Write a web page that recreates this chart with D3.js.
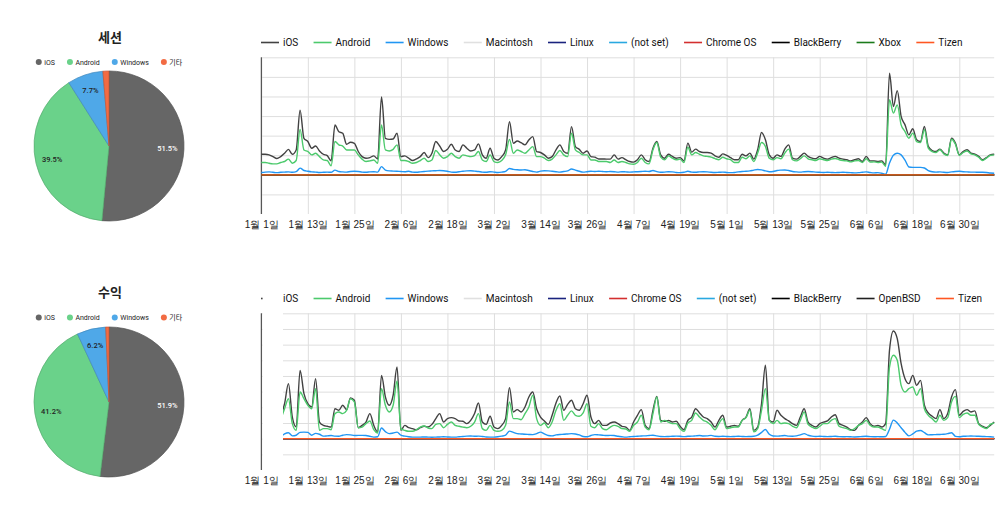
<!DOCTYPE html>
<html>
<head>
<meta charset="utf-8">
<script src="https://cdnjs.cloudflare.com/ajax/libs/d3/7.8.5/d3.min.js"></script>
<style>
  body { margin: 0; background: #fff; }
  svg { font-family: Roboto, "Noto Sans CJK KR", sans-serif; }
</style>
</head>
<body>
<svg id="chart" width="1005" height="518"></svg>
<script>
// pie data
var pieNames = ["iOS", "Android", "Windows", "기타"];
var pieColors = ["#666666", "#6ad28a", "#4fa8e8", "#f26b43"];
var sessionShare = [51.5, 39.5, 7.7, 1.3];
var revenueShare = [51.9, 41.2, 6.2, 0.7];

// x axis ticks
var tickDates = ["2019-01-01", "2019-01-13", "2019-01-25", "2019-02-06", "2019-02-18", "2019-03-02",
  "2019-03-14", "2019-03-26", "2019-04-07", "2019-04-19", "2019-05-01", "2019-05-13",
  "2019-05-25", "2019-06-06", "2019-06-18", "2019-06-30"];
var firstDay = "2019-01-01";
var lastDay = "2019-07-09";

// sessions, daily from 1월 1일
var sessIos = [105,105,102,93,83,93,110,130,105,127,
  330,186,170,136,147,122,105,98,71,254,
  220,212,156,166,161,119,93,85,88,97,
  81,398,186,181,183,212,93,97,85,73,
  81,93,114,88,110,170,147,119,130,156,
  127,119,153,136,122,127,158,102,85,136,
  85,76,93,127,271,161,173,164,153,178,
  195,119,114,102,85,93,127,153,119,110,
  246,144,130,110,122,93,90,81,81,80,
  80,102,80,88,77,68,65,77,102,77,
  68,136,170,102,85,105,94,85,88,71,
  162,116,131,119,114,114,111,97,90,107,
  99,88,77,77,105,97,111,80,128,216,
  179,102,85,102,94,131,153,85,80,94,
  111,94,85,82,94,85,80,88,94,85,
  80,77,71,77,82,68,94,71,71,68,
  71,51,519,349,430,298,255,204,235,179,
  170,247,145,124,119,131,111,102,187,162,
  102,119,128,111,105,94,77,88,102,105];
var sessAndroid = [63,63,59,56,56,63,68,80,59,73,
  232,127,119,102,110,93,76,73,46,170,
  153,147,127,127,127,102,80,68,71,76,
  59,254,127,122,130,153,73,73,68,59,
  63,73,85,68,76,124,102,85,93,110,
  93,85,102,97,93,98,119,76,68,102,
  68,63,73,102,181,110,127,119,110,127,
  144,93,93,85,73,80,102,124,102,93,
  212,127,114,102,102,76,76,68,68,68,
  63,76,63,68,63,56,54,63,85,63,
  56,128,165,90,77,97,85,77,80,63,
  141,102,114,105,97,94,90,83,77,90,
  82,77,63,63,90,82,97,68,111,165,
  145,85,77,88,82,111,131,77,71,82,
  97,82,77,73,82,77,73,80,83,77,
  73,71,66,71,73,63,82,65,66,63,
  65,43,383,315,357,255,221,187,213,170,
  165,230,136,119,114,128,107,99,182,156,
  99,114,122,107,102,90,73,85,99,102];
var sessWindows = [12,14,15,13,11,13,14,15,13,16,
  34,22,18,15,14,12,13,14,13,24,
  17,15,14,17,18,17,14,13,15,16,
  14,42,24,20,19,18,17,16,18,14,
  13,15,17,19,20,21,22,21,18,14,
  13,16,18,20,21,19,17,14,13,16,
  14,12,14,18,32,28,26,25,26,22,
  17,14,19,21,20,18,16,14,17,20,
  30,24,18,14,16,18,17,18,17,16,
  17,16,14,16,15,14,15,16,17,18,
  17,22,16,13,14,16,15,12,11,13,
  18,14,13,15,16,15,13,12,13,14,
  12,11,12,15,17,18,20,24,27,25,
  20,16,17,22,24,25,22,17,15,14,
  16,17,16,14,13,12,13,12,11,12,
  13,12,11,10,11,13,15,12,10,11,
  8,3,60,100,110,102,75,40,38,38,
  38,35,22,16,14,15,13,12,15,17,
  18,16,15,14,14,13,13,12,9,8];

// revenue, daily from 1월 6일 (day 5)
var revStart = 5;
var revIos = [140,223,351,138,75,
  436,287,223,202,383,106,85,79,74,191,
  181,213,185,260,245,70,85,106,160,85,
  43,404,266,213,277,457,53,85,70,64,
  57,70,79,74,91,128,160,106,128,134,
  128,113,111,96,117,160,228,106,91,143,
  74,64,85,128,326,170,185,170,202,266,
  298,191,138,113,91,149,228,272,181,219,
  245,191,181,223,277,138,96,117,85,85,
  100,106,96,79,74,53,106,149,185,85,
  64,181,270,117,111,117,106,111,79,57,
  117,138,191,164,138,128,106,74,117,149,
  74,79,85,79,117,138,191,53,74,223,
  468,117,106,181,149,128,113,96,85,138,
  191,106,85,74,96,106,113,138,153,96,
  85,74,57,53,85,106,134,96,79,85,
  74,96,564,687,638,479,383,351,404,340,
  372,213,164,143,128,185,128,160,266,313,
  149,174,185,170,177,96,79,70,85,106];
var revAndroid = [120,191,255,96,53,
  298,255,213,191,319,53,64,64,57,160,
  170,160,181,255,234,70,74,96,113,57,
  36,319,213,170,213,368,64,53,47,47,
  57,74,81,68,64,91,96,70,91,106,
  85,79,74,70,79,106,160,64,53,85,
  53,47,53,85,234,128,128,121,160,202,
  277,128,85,100,70,106,181,223,117,149,
  177,149,143,164,223,79,70,96,64,57,
  74,85,79,64,62,47,85,106,149,74,
  57,160,266,106,117,106,96,96,64,47,
  100,117,164,138,117,106,85,57,96,128,
  64,70,74,74,117,134,181,43,64,181,
  319,117,96,117,96,100,96,79,70,117,
  170,91,74,64,79,96,96,117,128,79,
  70,64,53,64,85,96,117,85,74,74,
  64,53,457,532,500,340,298,319,330,277,
  319,191,149,128,106,149,117,134,234,270,
  134,155,164,149,149,91,74,64,91,100];
var revWindows = [10,30,38,18,22,
  40,42,40,22,34,28,16,18,20,16,
  15,22,26,24,20,21,21,20,15,10,
  12,68,45,32,36,42,22,16,12,10,
  10,10,11,10,9,10,11,12,11,10,
  10,12,14,16,17,15,16,14,11,10,
  10,12,16,22,48,40,32,30,28,27,
  26,32,42,30,20,18,24,27,28,30,
  32,30,24,14,12,20,26,24,22,20,
  21,20,15,12,10,12,14,15,17,18,
  20,22,18,14,13,14,15,16,15,13,
  15,16,18,20,17,18,21,15,14,15,
  14,13,14,15,14,13,14,15,22,40,
  58,28,17,16,18,20,16,15,18,24,
  32,22,16,14,15,14,13,14,15,13,
  12,13,12,11,12,14,15,13,12,13,
  12,14,60,118,100,70,40,18,30,48,
  52,38,24,25,26,27,28,32,38,15,
  12,15,16,17,16,15,14,13,12,10];

// the small series stay flat on zero: [day, value]
var sessFlat = [[0, 0], [189, 0]];
var revFlat = [[5, 0], [189, 0]];

var sessNames = ["iOS", "Android", "Windows", "Macintosh", "Linux", "(not set)", "Chrome OS", "BlackBerry", "Xbox", "Tizen"];
var sessColors = ["#424242", "#4cca6c", "#2196f3", "#e0e0e0", "#1a237e", "#29a8e0", "#d32f2f", "#000000", "#1b7b1b", "#ff5722"];
var revNames = ["iOS", "Android", "Windows", "Macintosh", "Linux", "Chrome OS", "(not set)", "BlackBerry", "OpenBSD", "Tizen"];
var revColors = ["#424242", "#4cca6c", "#2196f3", "#e0e0e0", "#1a237e", "#d32f2f", "#29a8e0", "#000000", "#212121", "#ff5722"];

var svg = d3.select("#chart");
var parse = d3.utcParse("%Y-%m-%d");
var fmt = d3.utcFormat("%-m월 %-d일");
var day0 = parse(firstDay);

var x = d3.scaleUtc()
  .domain([day0, parse(lastDay)])
  .range([261.3, 994.2]);

function toPoints(values, start) {
  return values.map(function (v, i) { return [start + i, v]; });
}

function drawPie(cx, cy, title, share, titleY, legendY) {
  var g = svg.append("g");
  g.append("text")
    .attr("x", cx + 1).attr("y", titleY)
    .attr("text-anchor", "middle")
    .style("font-size", "13px").style("font-weight", "bold").style("fill", "#222")
    .text(title);

  // legend
  var lg = g.append("g");
  var lx = 0;
  pieNames.forEach(function (n, i) {
    lg.append("circle").attr("cx", lx + 3).attr("cy", 0).attr("r", 3).style("fill", pieColors[i]);
    var t = lg.append("text").attr("x", lx + 8.5).attr("y", 2.5)
      .style("font-size", "7px").style("fill", "#222").text(n);
    lx += 8.5 + t.node().getComputedTextLength() + 12;
  });
  lx -= 12;
  lg.attr("transform", "translate(" + (cx - lx / 2) + "," + legendY + ")");

  var r = 75;
  var pie = d3.pie().sort(null).value(function (d) { return d; });
  var arc = d3.arc().innerRadius(0).outerRadius(r);
  var labelArc = d3.arc().innerRadius(r * 0.78).outerRadius(r * 0.78);
  var arcs = pie(share);
  var pg = g.append("g").attr("transform", "translate(" + cx + "," + cy + ")");
  pg.selectAll("path").data(arcs).enter().append("path")
    .attr("d", arc)
    .style("fill", function (d, i) { return pieColors[i]; })
    .style("stroke", function (d, i) { return d3.color(pieColors[i]).darker(0.6); })
    .style("stroke-width", 0.7);
  pg.selectAll("text").data(arcs.filter(function (d) { return d.data > 5; })).enter().append("text")
    .attr("transform", function (d) { return "translate(" + labelArc.centroid(d) + ")"; })
    .attr("text-anchor", "middle").attr("dy", "0.35em")
    .style("font-size", "7.5px").style("font-weight", 500)
    .style("fill", function (d) { return d.index === 0 ? "#fff" : "#222"; })
    .text(function (d) { return d.data.toFixed(1) + "%"; });
}

function drawLines(series, yTop, yBottom, yMin, yMax, gridVals, legendY) {
  var y = d3.scaleLinear().domain([yMin, yMax]).range([yBottom, yTop]);
  var g = svg.append("g");
  var x0 = x.range()[0], x1 = x.range()[1];

  var xg = g.append("g")
    .attr("transform", "translate(0," + yBottom + ")")
    .call(d3.axisBottom(x).tickValues(tickDates.map(parse)).tickFormat(fmt)
      .tickSize(-(yBottom - yTop)).tickPadding(6.5));
  xg.select(".domain").remove();
  xg.selectAll("line").style("stroke", "#dedede");
  xg.selectAll("text").style("font-size", "10px").style("fill", "#222");

  var yg = g.append("g")
    .attr("transform", "translate(" + x0 + ",0)")
    .call(d3.axisLeft(y).tickValues(gridVals).tickFormat("").tickSize(-(x1 - x0)));
  yg.select(".domain").remove();
  yg.selectAll("line").style("stroke", "#dedede");

  g.append("line")
    .attr("x1", x0).attr("x2", x0).attr("y1", yTop).attr("y2", yBottom)
    .style("stroke", "#333").style("stroke-width", 1);

  var line = d3.line()
    .curve(d3.curveMonotoneX)
    .x(function (p) { return x(d3.utcDay.offset(day0, p[0])); })
    .y(function (p) { return y(p[1]); });

  series.forEach(function (s) {
    g.append("path")
      .datum(s.points)
      .attr("d", line)
      .style("fill", "none")
      .style("stroke", s.color)
      .style("stroke-width", 1.4);
  });

  // legend
  var lx = 261;
  series.forEach(function (s) {
    g.append("line")
      .attr("x1", lx).attr("x2", lx + 18).attr("y1", legendY).attr("y2", legendY)
      .style("stroke", s.color).style("stroke-width", 1.6);
    var t = g.append("text")
      .attr("x", lx + 22).attr("y", legendY + 3.6)
      .style("font-size", "10px").style("fill", "#111")
      .text(s.name);
    lx += 22 + t.node().getComputedTextLength() + 15.3;
  });
  return g;
}

function makeSeries(names, colors, lists, flat) {
  return names.map(function (n, i) {
    return { name: n, color: colors[i], points: lists[i] || flat };
  });
}

drawPie(109, 146, "세션", sessionShare, 41.5, 62);
drawPie(109, 402, "수익", revenueShare, 297, 317.5);

drawLines(makeSeries(sessNames, sessColors,
    [toPoints(sessIos, 0), toPoints(sessAndroid, 0), toPoints(sessWindows, 0)], sessFlat),
  57.3, 214, -200, 600, [-100, 0, 100, 200, 300, 400, 500, 600], 42.5);

drawLines(makeSeries(revNames, revColors,
    [toPoints(revIos, revStart), toPoints(revAndroid, revStart), toPoints(revWindows, revStart)], revFlat),
  313.3, 470, -200, 800, [-100, 0, 100, 200, 300, 400, 500, 600, 700, 800], 298.5);

// blank strip at the left of the revenue chart, as in the original
svg.append("rect")
  .attr("x", 262.6).attr("y", 288).attr("width", 20.4).attr("height", 186)
  .style("fill", "#fff");
</script>
</body>
</html>
